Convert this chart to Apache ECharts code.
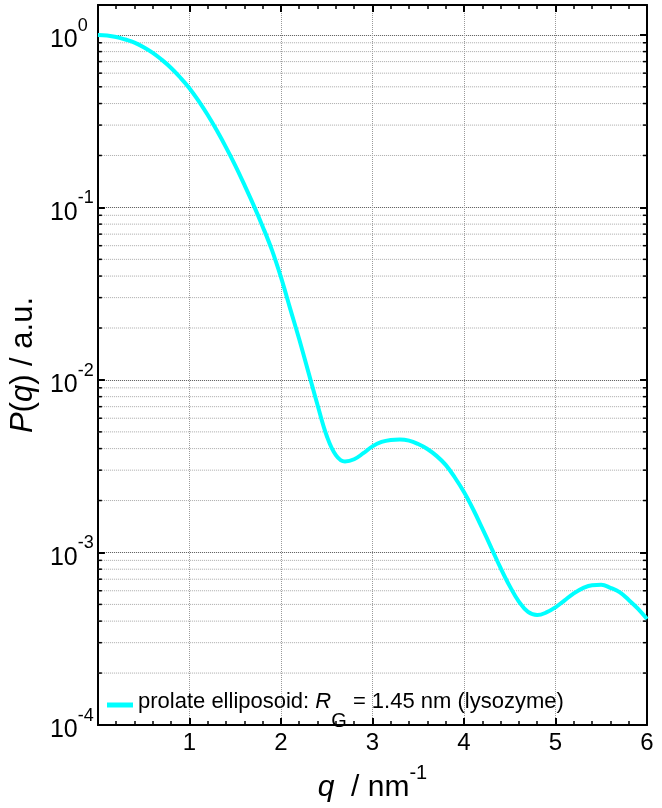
<!DOCTYPE html>
<html>
<head>
<meta charset="utf-8">
<script src="https://cdn.jsdelivr.net/npm/echarts@6/dist/echarts.min.js"></script>
<style>html,body{margin:0;padding:0;background:#fff;}#c{width:662px;height:808px;}</style>
</head>
<body>
<div id="c"></div>
<script>
const qValues = [0.0,0.1,0.2,0.3,0.4,0.5,0.6,0.7,0.8,0.9,1.0,1.1,1.2,1.3,1.4,1.5,1.6,1.7,1.8,1.9,2.0,2.1,2.2,2.3,2.4,2.5,2.6,2.7,2.8,2.9,3.0,3.1,3.2,3.3,3.4,3.5,3.6,3.7,3.8,3.9,4.0,4.1,4.2,4.3,4.4,4.5,4.6,4.7,4.8,4.9,5.0,5.1,5.2,5.3,5.4,5.5,5.6,5.7,5.8,5.9,6.0];
const pValues = [1.0,0.993,0.973,0.940,0.902,0.849,0.787,0.716,0.643,0.566,0.491,0.414,0.343,0.279,0.223,0.1754,0.1355,0.1035,0.0776,0.0569,0.0394,0.0260,0.0172,0.0111,0.00716,0.00475,0.00367,0.00337,0.00347,0.00376,0.00412,0.00437,0.00449,0.00452,0.00445,0.00425,0.00398,0.00363,0.00322,0.00272,0.00224,0.00178,0.00138,0.00106,0.000813,0.000638,0.000519,0.000452,0.000434,0.000449,0.000481,0.000528,0.000579,0.000621,0.000646,0.000649,0.000624,0.000589,0.000531,0.000473,0.000412];
const xTickLabels = ['', '1', '2', '3', '4', '5', '6'];
const minorYValues = [];
[1e-4,1e-3,1e-2,1e-1].forEach(function(d){ for (let k=2;k<=9;k++) minorYValues.push(+(k*d).toPrecision(3)); });
const seriesName = 'prolate elliposoid';

const FONT = 'Liberation Sans, Arial, sans-serif';
const chart = echarts.init(document.getElementById('c'));

function logLabel(v){
  const e = Math.round(Math.log10(v));
  if (Math.abs(Math.log10(v) - e) > 1e-6) return '';
  return '{b|10}{s|' + e + '}';
}
const yRich = {
  b:{fontSize:25, fontFamily:FONT, color:'#000', lineHeight:36, verticalAlign:'bottom'},
  s:{fontSize:18, fontFamily:FONT, color:'#000', lineHeight:18, verticalAlign:'top'}
};
const tickStyle = {color:'#000', width:2};
const minorTickStyle = {color:'#000', width:1.5};

const option = {
  animation:false,
  backgroundColor:'#fff',
  grid:{left:97, right:15, top:5, bottom:80, containLabel:false},
  legend:{
    data:[seriesName],
    left:107, top:691, padding:0,
    icon:'rect', itemWidth:26, itemHeight:5, itemGap:5,
    formatter:function(){ return '{t|prolate elliposoid: }{i|R}{sub|G}{t| = 1.45 nm (lysozyme)}'; },
    textStyle:{
      color:'#000', fontFamily:FONT, fontSize:22,
      rich:{
        t:{fontSize:22, fontFamily:FONT, color:'#000', lineHeight:28, verticalAlign:'top'},
        i:{fontSize:22, fontFamily:FONT, fontStyle:'italic', color:'#000', lineHeight:28, verticalAlign:'top'},
        sub:{fontSize:20, fontFamily:FONT, color:'#000', lineHeight:22, padding:[20,0,0,0], verticalAlign:'top'}
      }
    }
  },
  xAxis:[{
    type:'value', min:0, max:6, interval:1, position:'bottom',
    axisLine:{show:true, onZero:false, lineStyle:{color:'#000', width:2}},
    axisTick:{show:true, inside:true, length:7, lineStyle:tickStyle},
    minorTick:{show:true, splitNumber:5, length:4, lineStyle:minorTickStyle},
    splitLine:{show:true, lineStyle:{color:'#9a9a9a', width:1, type:[1,1]}},
    axisLabel:{show:true, margin:6, fontSize:24, fontFamily:FONT, color:'#000',
      formatter:function(v){ return xTickLabels[Math.round(v)] || ''; }},
    name:'{i|q}{n|  / nm}{s|-1}', nameLocation:'middle', nameGap:38,
    nameTextStyle:{rich:{
      i:{fontSize:30, fontFamily:FONT, fontStyle:'italic', color:'#000', lineHeight:40, verticalAlign:'bottom'},
      n:{fontSize:30, fontFamily:FONT, color:'#000', lineHeight:40, verticalAlign:'bottom'},
      s:{fontSize:20, fontFamily:FONT, color:'#000', lineHeight:20, verticalAlign:'top'}
    }}
  },{
    type:'value', min:0, max:6, interval:1, position:'top',
    axisLine:{show:true, onZero:false, lineStyle:{color:'#000', width:2}},
    axisTick:{show:true, inside:true, length:7, lineStyle:tickStyle},
    minorTick:{show:true, splitNumber:5, length:4, lineStyle:minorTickStyle},
    splitLine:{show:false}, axisLabel:{show:false}
  }],
  yAxis:[{
    type:'log', min:1e-4, max:1.49, logBase:10, position:'left',
    axisLine:{show:true, onZero:false, lineStyle:{color:'#000', width:2}},
    axisTick:{show:true, inside:true, length:7, lineStyle:tickStyle},
    splitLine:{show:true, lineStyle:{color:'#555', width:1, type:[1,1]}},
    axisLabel:{show:true, margin:48, align:'left', formatter:logLabel, rich:yRich, showMaxLabel:false},
    name:'{i|P}{n|(}{i|q}{n|) / a.u.}', nameLocation:'middle', nameGap:51, nameRotate:90,
    nameTextStyle:{rich:{
      i:{fontSize:31, fontFamily:FONT, fontStyle:'italic', color:'#000'},
      n:{fontSize:31, fontFamily:FONT, color:'#000'}
    }}
  },{
    type:'log', min:1e-4, max:1.49, logBase:10, position:'right',
    axisLine:{show:true, onZero:false, lineStyle:{color:'#000', width:2}},
    axisTick:{show:true, inside:true, length:7, lineStyle:tickStyle},
    splitLine:{show:false}, axisLabel:{show:false}
  }],
  series:[{
    type:'custom', name:'minor', silent:true, z:1,
    xAxisIndex:0, yAxisIndex:0,
    data:minorYValues.map(function(v){ return [0, v]; }),
    renderItem:function(params, api){
      const y = api.coord([0, api.value(1)])[1];
      const cs = params.coordSys;
      return {type:'group', children:[
        {type:'line', shape:{x1:cs.x, y1:y, x2:cs.x+cs.width, y2:y}, style:{stroke:'#aaa', lineWidth:1, lineDash:[1,1]}},
        {type:'line', shape:{x1:cs.x, y1:y, x2:cs.x+4, y2:y}, style:{stroke:'#000', lineWidth:1.5}},
        {type:'line', shape:{x1:cs.x+cs.width-4, y1:y, x2:cs.x+cs.width, y2:y}, style:{stroke:'#000', lineWidth:1.5}}
      ]};
    }
  },{
    type:'line', name:seriesName, z:5,
    xAxisIndex:0, yAxisIndex:0,
    data:qValues.map(function(q,i){ return [q, pValues[i]]; }),
    showSymbol:false, smooth:0.4,
    lineStyle:{color:'#00ffff', width:4},
    itemStyle:{color:'#00ffff'}
  }]
};
chart.setOption(option);
</script>
</body>
</html>
